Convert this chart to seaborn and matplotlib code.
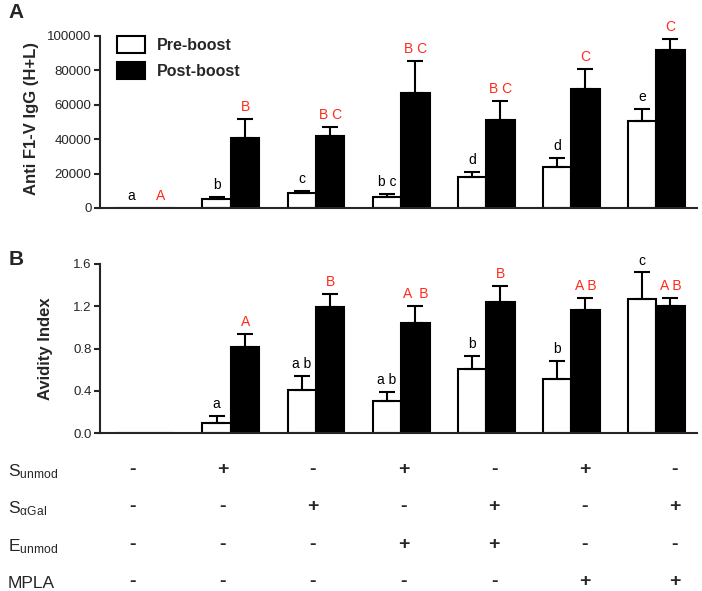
import numpy as np
import pandas as pd
import seaborn as sns
import matplotlib.pyplot as plt

# Datos
grupos = ["1", "2", "3", "4", "5", "6", "7"]

igg_pre = [0, 5200, 8700, 6400, 18000, 23800, 50600]
igg_pre_err = [0, 1200, 1200, 1700, 2900, 5200, 7000]
igg_post = [0, 40700, 41900, 66900, 51200, 69200, 91900]
igg_post_err = [0, 11000, 5200, 18600, 11000, 11600, 6400]
igg_pre_letras = ["a", "b", "c", "b c", "d", "d", "e"]
igg_post_letras = ["A", "B", "B C", "B C", "B C", "C", "C"]

avid_pre = [0, 0.09, 0.41, 0.30, 0.61, 0.51, 1.27]
avid_pre_err = [0, 0.075, 0.13, 0.09, 0.12, 0.17, 0.25]
avid_post = [0, 0.81, 1.19, 1.04, 1.24, 1.16, 1.20]
avid_post_err = [0, 0.13, 0.13, 0.16, 0.15, 0.12, 0.08]
avid_pre_letras = ["", "a", "a b", "a b", "b", "b", "c"]
avid_post_letras = ["", "A", "B", "A  B", "B", "A B", "A B"]

filas = ["S$_{\\mathrm{unmod}}$", "S$_{\\mathrm{αGal}}$", "E$_{\\mathrm{unmod}}$", "MPLA"]
signos = [
    ["-", "+", "-", "+", "-", "+", "-"],
    ["-", "-", "+", "-", "+", "-", "+"],
    ["-", "-", "-", "+", "+", "-", "-"],
    ["-", "-", "-", "-", "-", "+", "+"],
]

tiempos = ["Pre-boost", "Post-boost"]
ROJO = "#ff2a1a"

sns.set_style("ticks")
plt.rcParams["font.family"] = ["Liberation Sans", "DejaVu Sans"]
plt.rcParams["mathtext.fontset"] = "custom"
plt.rcParams["mathtext.rm"] = "Liberation Sans"
plt.rcParams["mathtext.it"] = "Liberation Sans:italic"


def panel(ax, pre, pre_err, post, post_err, pre_lab, post_lab):
    df = pd.DataFrame({
        "grupo": grupos * 2,
        "tiempo": [tiempos[0]] * 7 + [tiempos[1]] * 7,
        "valor": pre + post,
    })
    sns.barplot(data=df, x="grupo", y="valor", hue="tiempo", hue_order=tiempos,
                palette={"Pre-boost": "white", "Post-boost": "black"},
                edgecolor="black", linewidth=1.5, width=0.67, errorbar=None,
                legend=False, ax=ax)
    barras = list(ax.containers[:2])
    for cont, vals, errs, labs, col in zip(barras, [pre, post], [pre_err, post_err],
                                           [pre_lab, post_lab], ["black", ROJO]):
        xs = [p.get_x() + p.get_width() / 2 for p in cont.patches]
        for x, v, e, lab in zip(xs, vals, errs, labs):
            if e > 0:
                ax.errorbar([x], [v], yerr=[[0], [e]], fmt="none", ecolor="black",
                            elinewidth=1.5, capsize=6, capthick=1.5)
            if lab:
                ax.annotate(lab, (x, v + e), xytext=(0, 8.6), textcoords="offset points",
                            ha="center", va="center", color=col, fontsize=10)
    ax.set_xlim(-0.54, 6.48)
    ax.set_xticks([])
    ax.set_xlabel("")
    sns.despine(ax=ax)
    for s in ["left", "bottom"]:
        ax.spines[s].set_linewidth(1.5)
    ax.tick_params(axis="y", length=4, width=1.5, labelsize=9.5, pad=2)
    return barras


fig = plt.figure(figsize=(7.02, 5.91), dpi=100)

# Panel A
axA = fig.add_axes([100 / 702, (591 - 208) / 591, 597 / 702, 172 / 591])
barrasA = panel(axA, igg_pre, igg_pre_err, igg_post, igg_post_err, igg_pre_letras, igg_post_letras)
axA.set_ylim(0, 100000)
axA.set_yticks(np.arange(0, 100001, 20000))
axA.set_ylabel("Anti F1-V IgG (H+L)", fontsize=12, fontweight="bold")
axA.yaxis.set_label_coords(-0.102, 0.52)
axA.legend(handles=[c.patches[0] for c in barrasA], labels=tiempos,
           loc="upper left", bbox_to_anchor=(17 / 597, 1.0), frameon=False,
           borderpad=0, borderaxespad=0, handlelength=1.75, handleheight=1.25,
           labelspacing=0.6, handletextpad=0.75,
           prop={"size": 11.5, "weight": "bold"})

# Panel B
axB = fig.add_axes([100 / 702, (591 - 433) / 591, 597 / 702, 169 / 591])
panel(axB, avid_pre, avid_pre_err, avid_post, avid_post_err, avid_pre_letras, avid_post_letras)
axB.set_ylim(0, 1.6)
axB.set_yticks(np.arange(0, 1.61, 0.4))
axB.set_ylabel("Avidity Index", fontsize=12, fontweight="bold")
axB.yaxis.set_label_coords(-0.079, 0.5)

fig.text(0.012, 0.995, "A", fontsize=15, fontweight="bold", va="top")
fig.text(0.012, 1 - 250 / 591, "B", fontsize=15, fontweight="bold", va="top")

# Tabla de formulaciones
axT = fig.add_axes([0, 0, 1, 146 / 591])
axT.set_xlim(-132 / 90.5, -132 / 90.5 + 702 / 90.5)
axT.set_ylim(3.24, -0.64)
axT.axis("off")
for i, (fila, sg) in enumerate(zip(filas, signos)):
    axT.text(8 / 702, i, fila, transform=axT.get_yaxis_transform(),
             ha="left", va="center_baseline", fontsize=12.5)
    for j, s in enumerate(sg):
        axT.text(j, i, s, ha="center", va="center", fontsize=14, fontweight="bold")

plt.savefig("out.png", dpi=100)
